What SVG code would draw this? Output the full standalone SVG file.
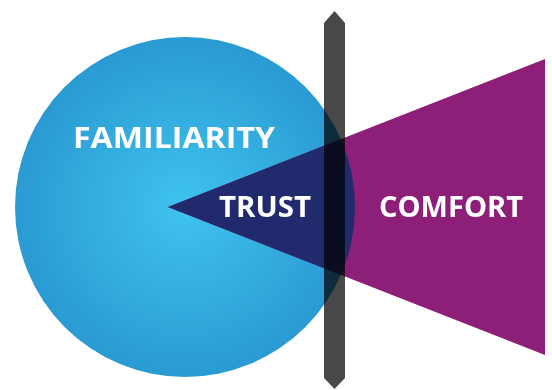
<svg xmlns="http://www.w3.org/2000/svg" width="552" height="390" viewBox="0 0 552 390">
  <defs>
    <radialGradient id="blueGrad" cx="185" cy="207" r="170" gradientUnits="userSpaceOnUse">
      <stop offset="0" stop-color="#3fc3ee"/>
      <stop offset="1" stop-color="#2a9ad3"/>
    </radialGradient>
    <clipPath id="circleClip">
      <circle cx="185" cy="207" r="170"/>
    </clipPath>
  </defs>
  <style>
    .label { font-family: "Open Sans", "Liberation Sans", sans-serif; font-weight: 700; fill: #ffffff; font-size: 28px; }
  </style>
  <rect width="552" height="390" fill="#ffffff"/>
  <g id="familiarity">
    <circle cx="185" cy="207" r="170" fill="url(#blueGrad)"/>
  </g>
  <g id="comfort">
    <polygon points="168,207 545,59 545,355" fill="#8e1f78"/>
  </g>
  <g id="trust">
    <polygon points="168,207 545,59 545,355" fill="#212a6d" clip-path="url(#circleClip)"/>
  </g>
  <g id="barrier">
    <path d="M324,23 L334.5,11 L345,23 L345,378 L334.5,389 L324,378 Z" fill="#484848" style="mix-blend-mode: multiply"/>
  </g>
  <g id="labels">
    <text class="label" x="73" y="148" textLength="202" lengthAdjust="spacingAndGlyphs">FAMILIARITY</text>
    <text class="label" x="219" y="217" textLength="92" lengthAdjust="spacingAndGlyphs">TRUST</text>
    <text class="label" x="379" y="217" textLength="144" lengthAdjust="spacingAndGlyphs">COMFORT</text>
  </g>
</svg>
